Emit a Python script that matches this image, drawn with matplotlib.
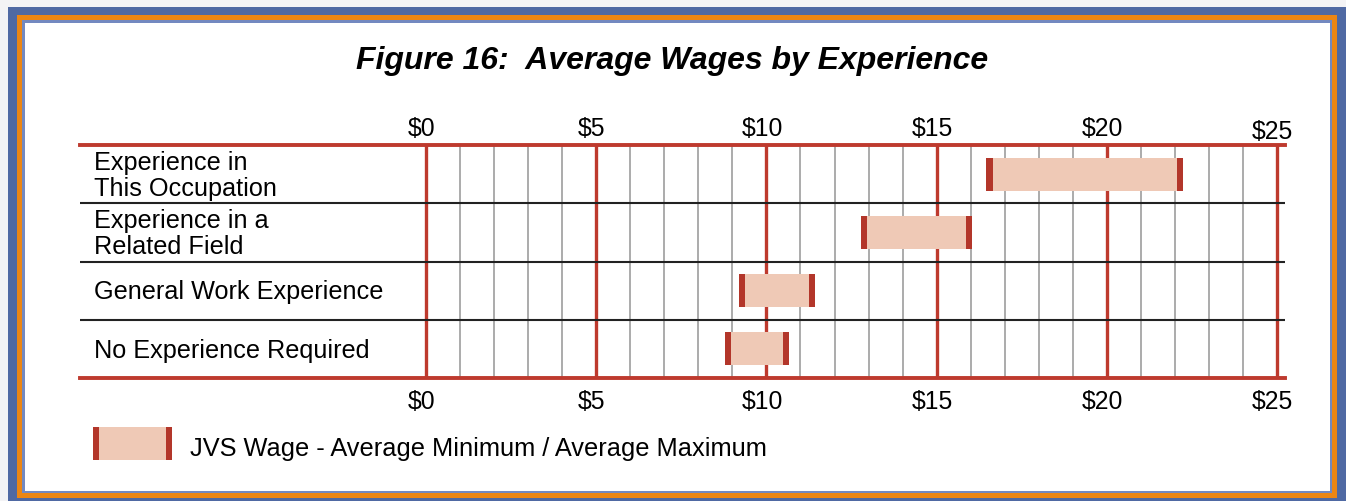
import matplotlib.pyplot as plt
import matplotlib.patches as mpatches
import numpy as np

plt.rcParams['font.family'] = ['Liberation Sans', 'DejaVu Sans']

categories = ['Experience in\nThis Occupation', 'Experience in a\nRelated Field',
              'General Work Experience', 'No Experience Required']
wage_min = [16.55, 12.87, 9.28, 8.87]
wage_max = [22.15, 15.95, 11.34, 10.58]
major_ticks = [0, 5, 10, 15, 20, 25]
tick_labels = ['$0', '$5', '$10', '$15', '$20', '$25']

W, H = 1346, 501
red = '#BE3A2E'
cap_red = '#B3362A'
fill = '#EFC9B6'

fig = plt.figure(figsize=(W / 100, H / 100), dpi=100)
fig.patch.set_facecolor('#F3F3F5')

# frame: blue / orange / thin blue / white
def frame_rect(x0, y0, x1, y1, color, z):
    fig.add_artist(mpatches.Rectangle((x0 / W, 1 - y1 / H), (x1 - x0) / W, (y1 - y0) / H,
                                      transform=fig.transFigure, facecolor=color,
                                      edgecolor='none', zorder=z))

frame_rect(8, 7, 1346, 501, '#4F69A3', -10)
frame_rect(16.5, 15, 1337, 498, '#EC8614', -9)
frame_rect(22, 20, 1332, 493, '#7389C0', -8)
frame_rect(24.5, 22.5, 1330, 491, 'white', -7)

ax = fig.add_axes([80 / W, (H - 378) / H, (1285 - 80) / W, 233 / H])
ax.set_facecolor('none')
ax.set_xlim(-10.16, 25.23)
ax.set_ylim(len(categories) - 0.5, -0.5)

# grid
ax.vlines(np.arange(1, 25), -0.5, len(categories) - 0.5, color='#ABABAB', lw=1.4, zorder=1)
ax.vlines(major_ticks, -0.5, len(categories) - 0.5, color=red, lw=2.4, zorder=2)
for y in np.arange(0.5, len(categories) - 0.5, 1):
    ax.axhline(y, color='#222222', lw=1.5, zorder=2)

# bars with caps
ypos = np.arange(len(categories))
wmin = np.array(wage_min)
wmax = np.array(wage_max)
ax.barh(ypos, wmax - wmin, left=wmin, height=0.57, color=fill, zorder=3)
ax.barh(ypos, 0.18, left=wmin - 0.09, height=0.57, color=cap_red, zorder=4)
ax.barh(ypos, 0.18, left=wmax - 0.09, height=0.57, color=cap_red, zorder=4)

for s in ['left', 'right']:
    ax.spines[s].set_visible(False)
for s in ['top', 'bottom']:
    ax.spines[s].set_color(red)
    ax.spines[s].set_linewidth(2.8)
ax.set_xticks([])
ax.set_yticks([])

# tick labels top and bottom
tx = ax.get_xaxis_transform()
for v, lab in zip(major_ticks, tick_labels):
    top_y = 1.056 if v == 25 else 1.068
    ax.text(v - 0.13, top_y, lab, transform=tx, ha='center', va='center', fontsize=17.8)
    ax.text(v - 0.13, -0.102, lab, transform=tx, ha='center', va='center', fontsize=17.8)

# row labels
ty = ax.get_yaxis_transform()
for y, lab in zip(ypos, categories):
    ax.text(0.0116, y + 0.03, lab, transform=ty, ha='left', va='center',
            fontsize=18.2, linespacing=1.08)

fig.text(672 / W, 1 - 61 / H, 'Figure 16:  Average Wages by Experience',
         ha='center', va='center', fontsize=23, fontweight='bold', fontstyle='italic')

# legend
frame_rect(93, 427, 172, 460, fill, 5)
frame_rect(93, 427, 99, 460, cap_red, 6)
frame_rect(166, 427, 172, 460, cap_red, 6)
fig.text(190 / W, 1 - 449 / H, 'JVS Wage - Average Minimum / Average Maximum',
         ha='left', va='center', fontsize=18.3)

fig.savefig('out.png', dpi=100, facecolor=fig.get_facecolor())
